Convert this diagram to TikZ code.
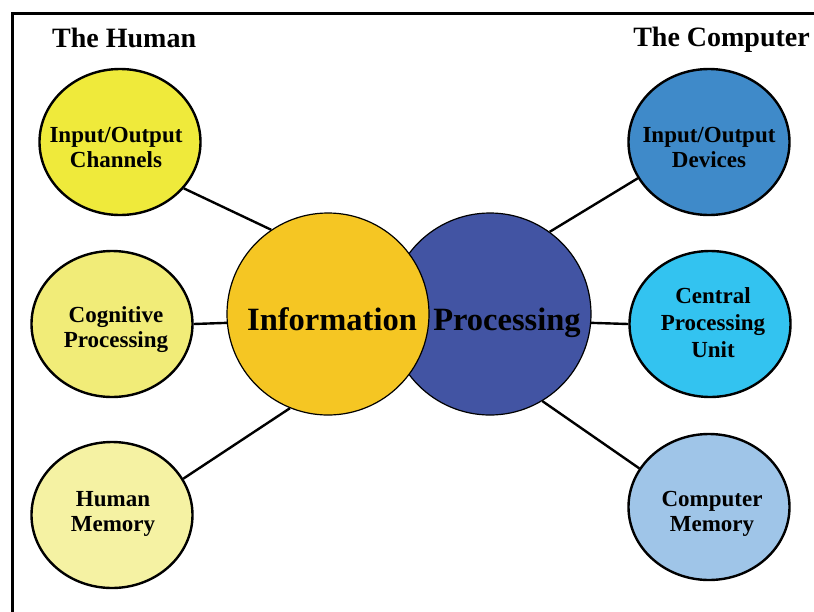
\documentclass[tikz,border=0pt]{standalone}
\usepackage{fontspec}
\setmainfont{Liberation Serif}
\usetikzlibrary{shapes.geometric}
\definecolor{cIOC}{HTML}{EFEA3B}
\definecolor{cCOG}{HTML}{F1EC78}
\definecolor{cHM}{HTML}{F5F2A3}
\definecolor{cINFO}{HTML}{F5C623}
\definecolor{cPROC}{HTML}{4254A3}
\definecolor{cIOD}{HTML}{3F8AC9}
\definecolor{cCPU}{HTML}{33C3F0}
\definecolor{cCM}{HTML}{9FC5E8}
\tikzset{
  bub/.style={ellipse, draw=black, line width=2.4pt, minimum width=161pt, minimum height=146pt, inner sep=0pt},
  big/.style={circle, draw=black, line width=1.2pt, minimum size=202pt, inner sep=0pt},
  conn/.style={draw=black, line width=2.4pt},
  txt/.style={anchor=base, inner sep=0pt, font=\fontsize{23}{25.5}\selectfont\bfseries},
  bigtxt/.style={anchor=base, inner sep=0pt, font=\fontsize{32.5}{36}\selectfont\bfseries},
  title/.style={inner sep=0pt, font=\fontsize{28}{30}\selectfont\bfseries}
}
\newcommand\tl[1]{\begin{tabular}[t]{@{}c@{}}#1\end{tabular}}
\begin{document}
\begin{tikzpicture}[x=1pt,y=-1pt]
\clip (0,0) rectangle (814,611);
\fill[white] (0,0) rectangle (814,611);
\draw[line width=3pt] (12,640) -- (12,13) -- (840,13);
\node[title, anchor=base west] (th) at (52,47) {The Human};
\node[title, anchor=base east] (tc) at (810,46) {The Computer};
% central circles
\node[big, fill=cPROC] (proc) at (490,314) {};
\node[big, fill=cINFO] (info) at (328,314) {};
\node[bigtxt] (infot) at (332,330) {Information};
\node[bigtxt] (proct) at (507,330) {Processing};
% human side
\node[bub, fill=cIOC] (ioc) at (120,142) {};
\node[bub, fill=cCOG] (cog) at (112,324) {};
\node[bub, fill=cHM] (hm) at (112,515) {};
% computer side
\node[bub, fill=cIOD] (iod) at (709,142) {};
\node[bub, fill=cCPU] (cpu) at (710,324) {};
\node[bub, fill=cCM] (cm) at (709,507) {};
% texts
\node[txt] (ioct) at (116,142) {\tl{Input/Output\\Channels}};
\node[txt] (cogt) at (116,322) {\tl{Cognitive\\Processing}};
\node[txt] (hmt) at (113,506) {\tl{Human\\Memory}};
\node[txt] (iodt) at (709,142) {\tl{Input/Output\\Devices}};
\node[txt, font=\fontsize{23}{27}\selectfont\bfseries] (cput) at (713,303) {\tl{Central\\Processing\\Unit}};
\node[txt] (cmt) at (712,506) {\tl{Computer\\Memory}};
% connectors
\draw[conn] (ioc.-36) -- (info.124.7);
\draw[conn] (cog.0) -- (info.185.7);
\draw[conn] (hm.27.5) -- (info.-112);
\draw[conn] (iod.207.5) -- (proc.54.4);
\draw[conn] (cpu.180) -- (proc.-5.7);
\draw[conn] (cm.151) -- (proc.-59.2);
\end{tikzpicture}
\end{document}
